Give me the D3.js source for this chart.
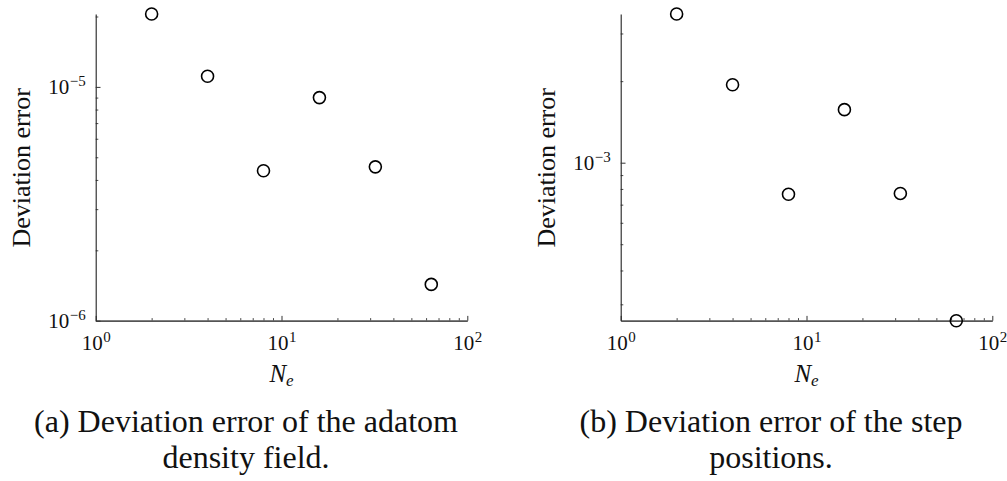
<!DOCTYPE html>
<html>
<head>
<meta charset="utf-8">
<script src="https://cdn.jsdelivr.net/npm/d3@7"></script>
<style>
  html, body { margin: 0; padding: 0; background: #fff; }
  svg { display: block; }
  text { font-family: "Liberation Serif", "Times New Roman", serif; fill: #111; }
</style>
</head>
<body>
<svg id="fig" width="1007" height="481"></svg>
<script>
// Number of elements N_e used in the convergence study
const elements = [2, 4, 8, 16, 32, 64];
// (a) deviation error of the adatom density field
const densityError = [2.05e-5, 1.11e-5, 4.38e-6, 9.0e-6, 4.55e-6, 1.43e-6];
// (b) deviation error of the step positions
const stepError = [3.54e-3, 1.94e-3, 7.65e-4, 1.57e-3, 7.70e-4, 2.61e-4];

// Decade exponents that get a "10^k" label
const xTickExponents = [0, 1, 2];
const densityTickExponents = [-6, -5];
const stepTickExponents = [-3];

const captionA = ["(a) Deviation error of the adatom", "density field."];
const captionB = ["(b) Deviation error of the step", "positions."];
const yTitle = "Deviation error";

const svg = d3.select("#fig");

const isDecade = v => Math.abs(Math.log10(v) - Math.round(Math.log10(v))) < 1e-9;

function powerLabel(textSel, exp) {
  textSel.text(null);
  textSel.append("tspan").text("10");
  textSel.append("tspan")
    .attr("font-size", 15)
    .attr("dy", -8.5)
    .attr("dx", 0.5)
    .text(exp < 0 ? "\u2212" + Math.abs(exp) : String(exp));
}

function drawPanel(cfg) {
  const g = svg.append("g");
  const x = d3.scaleLog().domain([1, 100]).range([cfg.left, cfg.left + 371.6]);
  const y = d3.scaleLog().domain(cfg.yDomain).range([320.7, 14]);

  const xMinor = x.ticks().filter(v => !isDecade(v));
  const yMinor = y.ticks().filter(v => !isDecade(v));
  const xMajor = xTickExponents.map(e => Math.pow(10, e));
  const yMajor = cfg.yExponents.map(e => Math.pow(10, e));

  const baseY = y.range()[0];

  // minor ticks (pointing into the plot)
  g.append("g")
    .attr("transform", `translate(0,${baseY})`)
    .call(d3.axisBottom(x).tickValues(xMinor).tickSize(-2.6).tickSizeOuter(0).tickFormat(""))
    .call(s => s.select(".domain").remove())
    .call(s => s.selectAll("line").attr("stroke", "#333").attr("stroke-width", 0.9));
  g.append("g")
    .attr("transform", `translate(${cfg.left},0)`)
    .call(d3.axisLeft(y).tickValues(yMinor).tickSize(-2.6).tickSizeOuter(0).tickFormat(""))
    .call(s => s.select(".domain").remove())
    .call(s => s.selectAll("line").attr("stroke", "#333").attr("stroke-width", 0.9));

  // major ticks + power-of-ten labels
  const xAxis = g.append("g")
    .attr("transform", `translate(0,${baseY})`)
    .call(d3.axisBottom(x).tickValues(xMajor).tickSize(-4.8).tickSizeOuter(0).tickPadding(0));
  xAxis.select(".domain").attr("stroke", "#555").attr("stroke-width", 1.7);
  xAxis.selectAll(".tick line").attr("stroke", "#333").attr("stroke-width", 1);
  xAxis.selectAll(".tick text")
    .attr("y", 29.5).attr("dy", null)
    .attr("font-size", 21).attr("text-anchor", "middle")
    .attr("fill", "#111")
    .each(function (d) { powerLabel(d3.select(this), Math.round(Math.log10(d))); });

  const yAxis = g.append("g")
    .attr("transform", `translate(${cfg.left},0)`)
    .call(d3.axisLeft(y).tickValues(yMajor).tickSize(-4.8).tickSizeOuter(0).tickPadding(0));
  yAxis.select(".domain").attr("stroke", "#222").attr("stroke-width", 1.1);
  yAxis.selectAll(".tick line").attr("stroke", "#333").attr("stroke-width", 1);
  yAxis.selectAll(".tick text")
    .attr("x", -10).attr("dy", 7)
    .attr("font-size", 21).attr("text-anchor", "end")
    .attr("fill", "#111")
    .each(function (d) { powerLabel(d3.select(this), Math.round(Math.log10(d))); });

  // axis titles
  const cx = (x.range()[0] + x.range()[1]) / 2;
  const nt = g.append("text")
    .attr("x", cx).attr("y", 381.5)
    .attr("text-anchor", "middle")
    .attr("font-size", 25);
  nt.append("tspan").attr("font-style", "italic").text("N");
  nt.append("tspan").attr("font-style", "italic").attr("font-size", 17).attr("dy", 4).text("e");

  g.append("text")
    .attr("transform", `translate(${cfg.left - 66},${(y.range()[0] + y.range()[1]) / 2 + 0.5}) rotate(-90)`)
    .attr("text-anchor", "middle")
    .attr("font-size", 26)
    .text(yTitle);

  // data markers
  g.append("g").selectAll("circle")
    .data(elements.map((n, i) => [n, cfg.values[i]]))
    .join("circle")
    .attr("cx", d => x(d[0]))
    .attr("cy", d => y(d[1]))
    .attr("r", 6)
    .attr("fill", "none")
    .attr("stroke", "#000")
    .attr("stroke-width", 1.6);

  // caption
  g.append("g").selectAll("text")
    .data(cfg.caption)
    .join("text")
    .attr("x", cfg.captionX)
    .attr("y", (d, i) => 432 + i * 36)
    .attr("text-anchor", "middle")
    .attr("font-size", 32)
    .text(d => d);
}

drawPanel({
  left: 95.7,
  yDomain: [1e-6, d3.max(densityError)],
  yExponents: densityTickExponents,
  values: densityError,
  caption: captionA,
  captionX: 246
});

drawPanel({
  left: 620.7,
  yDomain: d3.extent(stepError),
  yExponents: stepTickExponents,
  values: stepError,
  caption: captionB,
  captionX: 771
});
</script>
</body>
</html>
